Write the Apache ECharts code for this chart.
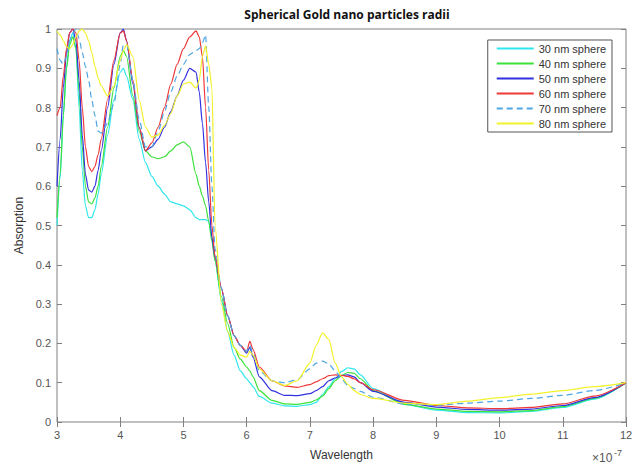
<!DOCTYPE html>
<html>
<head>
<meta charset="utf-8">
<script src="https://cdn.jsdelivr.net/npm/echarts@6/dist/echarts.min.js"></script>
<style>
  html, body { margin: 0; padding: 0; background: #fff; }
  #chart { width: 639px; height: 466px; }
</style>
</head>
<body>
<div id="chart"></div>
<script>
// wavelength in units of 1e-7 m (axis shows x10^-7)
const wavelength = [
  3.0, 3.05, 3.1, 3.15, 3.2, 3.25, 3.3, 3.35, 3.4, 3.45,
  3.5, 3.55, 3.6, 3.65, 3.7, 3.8, 3.9, 4.0, 4.05, 4.1,
  4.2, 4.3, 4.4, 4.5, 4.6, 4.7, 4.8, 4.9, 5.0, 5.1,
  5.2, 5.25, 5.3, 5.35, 5.4, 5.45, 5.5, 5.6, 5.7, 5.8,
  5.9, 6.0, 6.05, 6.1, 6.2, 6.4, 6.6, 6.8, 7.0, 7.1,
  7.2, 7.3, 7.4, 7.5, 7.6, 7.7, 7.8, 8.0, 8.5, 9.0,
  9.5, 10, 10.5, 11, 11.5, 12
];

const sphere30 = [
  0.50, 0.62, 0.78, 0.90, 0.97, 0.99, 0.95, 0.80, 0.64, 0.55,
  0.52, 0.52, 0.54, 0.58, 0.63, 0.73, 0.82, 0.89, 0.90, 0.88,
  0.82, 0.72, 0.66, 0.625, 0.60, 0.58, 0.56, 0.555, 0.55, 0.54,
  0.52, 0.515, 0.515, 0.515, 0.51, 0.47, 0.41, 0.31, 0.23, 0.17,
  0.13, 0.11, 0.10, 0.09, 0.065, 0.048, 0.041, 0.04, 0.044, 0.05,
  0.07, 0.09, 0.11, 0.128, 0.138, 0.135, 0.12, 0.085, 0.045, 0.03,
  0.024, 0.023, 0.027, 0.037, 0.058, 0.1
];

const sphere40 = [
  0.52, 0.63, 0.78, 0.90, 0.96, 0.98, 0.95, 0.84, 0.70, 0.60,
  0.56, 0.555, 0.57, 0.60, 0.65, 0.75, 0.85, 0.93, 0.945, 0.93,
  0.83, 0.74, 0.69, 0.675, 0.67, 0.675, 0.69, 0.705, 0.713, 0.70,
  0.63, 0.60, 0.575, 0.55, 0.51, 0.46, 0.41, 0.32, 0.25, 0.19,
  0.16, 0.14, 0.13, 0.115, 0.08, 0.055, 0.046, 0.045, 0.05, 0.056,
  0.066, 0.085, 0.105, 0.118, 0.126, 0.124, 0.11, 0.08, 0.045, 0.033,
  0.027, 0.026, 0.029, 0.039, 0.06, 0.1
];

const sphere50 = [
  0.60, 0.72, 0.85, 0.94, 0.99, 1.0, 0.97, 0.87, 0.73, 0.63,
  0.59, 0.585, 0.60, 0.64, 0.69, 0.80, 0.91, 0.99, 1.0, 0.97,
  0.86, 0.75, 0.69, 0.70, 0.72, 0.75, 0.79, 0.83, 0.87, 0.90,
  0.89, 0.84, 0.76, 0.66, 0.56, 0.47, 0.42, 0.34, 0.27, 0.22,
  0.195, 0.175, 0.19, 0.165, 0.115, 0.08, 0.068, 0.067, 0.072, 0.08,
  0.09, 0.105, 0.112, 0.118, 0.12, 0.115, 0.1, 0.078, 0.05, 0.038,
  0.032, 0.03, 0.033, 0.042, 0.062, 0.1
];

const sphere60 = [
  0.78, 0.80, 0.88, 0.95, 0.99, 1.0, 0.99, 0.92, 0.80, 0.70,
  0.65, 0.637, 0.65, 0.68, 0.72, 0.82, 0.92, 0.99, 0.995, 0.97,
  0.87, 0.75, 0.69, 0.71, 0.75, 0.80, 0.86, 0.91, 0.95, 0.98,
  0.995, 0.98, 0.93, 0.80, 0.64, 0.50, 0.42, 0.34, 0.27, 0.22,
  0.195, 0.18, 0.205, 0.185, 0.14, 0.105, 0.092, 0.088, 0.095, 0.102,
  0.11, 0.118, 0.12, 0.119, 0.116, 0.11, 0.1, 0.082, 0.055, 0.042,
  0.036, 0.034, 0.037, 0.046, 0.066, 0.1
];

const sphere70 = [
  0.95, 0.92, 0.91, 0.93, 0.97, 0.99, 1.0, 0.975, 0.94, 0.905,
  0.87, 0.82, 0.78, 0.74, 0.735, 0.76, 0.81, 0.91, 0.96, 0.96,
  0.87, 0.77, 0.70, 0.70, 0.74, 0.79, 0.84, 0.88, 0.91, 0.935,
  0.945, 0.95, 0.965, 0.985, 0.80, 0.60, 0.44, 0.34, 0.27, 0.22,
  0.195, 0.18, 0.195, 0.175, 0.13, 0.105, 0.1, 0.108, 0.135, 0.15,
  0.155, 0.148, 0.13, 0.11, 0.093, 0.085, 0.078, 0.063, 0.046, 0.043,
  0.048, 0.053, 0.06, 0.068, 0.08, 0.1
];

const sphere80 = [
  0.995, 0.985, 0.97, 0.955, 0.95, 0.96, 0.98, 0.995, 1.0, 0.99,
  0.97, 0.94, 0.905, 0.875, 0.855, 0.83, 0.855, 0.92, 0.945, 0.96,
  0.93, 0.82, 0.75, 0.725, 0.73, 0.755, 0.785, 0.83, 0.86, 0.865,
  0.85, 0.87, 0.93, 0.957, 0.91, 0.85, 0.5, 0.3, 0.23, 0.19,
  0.17, 0.165, 0.18, 0.17, 0.135, 0.105, 0.093, 0.105, 0.15, 0.195,
  0.227, 0.21, 0.15, 0.115, 0.096, 0.08, 0.07, 0.06, 0.048, 0.044,
  0.053, 0.062, 0.071, 0.08, 0.09, 0.1
];

const seriesNames = ['30 nm sphere', '40 nm sphere', '50 nm sphere', '60 nm sphere', '70 nm sphere', '80 nm sphere'];
const seriesValues = [sphere30, sphere40, sphere50, sphere60, sphere70, sphere80];
const seriesColors = ['#2ee6ee', '#3be23b', '#3030e0', '#ee3838', '#4ea6e4', '#f2f22a'];

const chart = echarts.init(document.getElementById('chart'), null, { renderer: 'svg' });

const series = seriesNames.map((name, i) => ({
  name: name,
  type: 'line',
  data: wavelength.map((w, j) => [w, seriesValues[i][j]]),
  showSymbol: false,
  symbol: 'none',
  smooth: 0.25,
  smoothMonotone: 'x',
  color: seriesColors[i],
  lineStyle: {
    width: 1.2,
    color: seriesColors[i],
    type: i === 4 ? [6, 4] : 'solid'
  },
  emphasis: { disabled: true },
  animation: false
}));

const tickStyle = { show: true, inside: true, length: 5, lineStyle: { color: '#808080' } };
const font = 'Liberation Sans, Arial, sans-serif';

chart.setOption({
  animation: false,
  title: {
    text: 'Spherical Gold nano particles radii',
    left: 342,
    textAlign: 'center',
    top: 3,
    textStyle: { fontFamily: 'Open Sans, sans-serif', fontWeight: 'bold', fontSize: 12, color: '#111' }
  },
  grid: {
    left: 57, right: 13, top: 29, bottom: 41,
    show: true, borderColor: '#808080', borderWidth: 1, backgroundColor: '#fff'
  },
  legend: {
    data: seriesNames,
    orient: 'vertical',
    right: 27,
    top: 40,
    itemWidth: 37,
    itemHeight: 11,
    itemGap: 4,
    padding: [3, 6, 3, 8],
    borderColor: '#555',
    borderWidth: 1,
    backgroundColor: '#fff',
    itemStyle: { opacity: 0, color: 'transparent', borderWidth: 0 },
    textStyle: { fontFamily: font, fontSize: 11, color: '#333' }
  },
  xAxis: [{
    type: 'value', min: 3, max: 12, interval: 1,
    name: 'Wavelength', nameLocation: 'middle', nameGap: 27,
    nameTextStyle: { fontFamily: font, fontSize: 12, color: '#333' },
    axisLine: { show: false },
    axisTick: tickStyle,
    splitLine: { show: false },
    axisLabel: { fontFamily: font, fontSize: 11, color: '#555', margin: 7 }
  }, {
    type: 'value', min: 3, max: 12, interval: 1, position: 'top',
    axisLine: { show: false }, axisTick: tickStyle, axisLabel: { show: false }, splitLine: { show: false }
  }],
  yAxis: [{
    type: 'value', min: 0, max: 1, interval: 0.1,
    name: 'Absorption', nameLocation: 'middle', nameGap: 25,
    nameTextStyle: { fontFamily: font, fontSize: 12, color: '#333' },
    axisLine: { show: false },
    axisTick: tickStyle,
    splitLine: { show: false },
    axisLabel: {
      fontFamily: font, fontSize: 11, color: '#555', margin: 6,
      formatter: v => String(+v.toFixed(1))
    }
  }, {
    type: 'value', min: 0, max: 1, interval: 0.1, position: 'right',
    axisLine: { show: false }, axisTick: tickStyle, axisLabel: { show: false }, splitLine: { show: false }
  }],
  graphic: [
    { type: 'text', left: 592, top: 452, style: { text: '×10', fontFamily: font, fontSize: 12, fill: '#555' } },
    { type: 'text', left: 614, top: 448, style: { text: '-7', fontFamily: font, fontSize: 9, fill: '#555' } }
  ],
  series: series
});
</script>
</body>
</html>
